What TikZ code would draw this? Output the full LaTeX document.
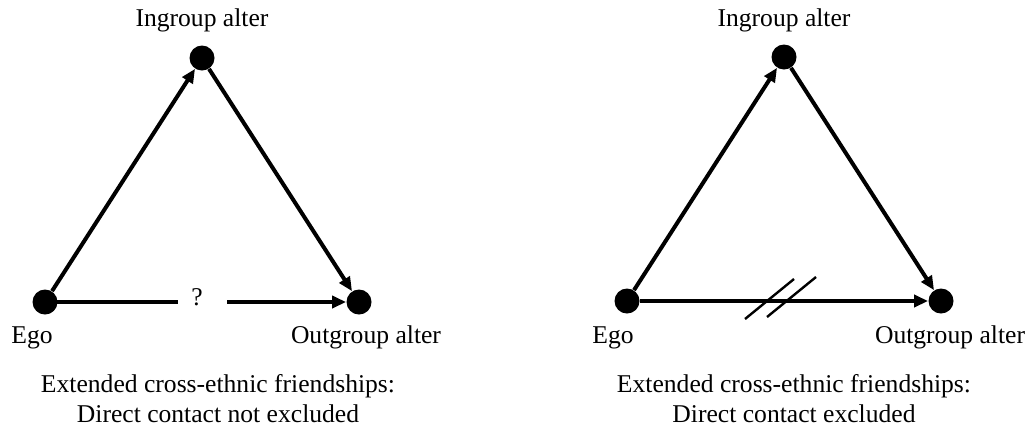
\documentclass[tikz,border=0pt]{standalone}
\usepackage{fontspec}
\setmainfont{Liberation Serif}
\usetikzlibrary{arrows.meta}
\begin{document}
\begin{tikzpicture}[x=0.5pt,y=-0.5pt,
  dot/.style={circle,fill=black,inner sep=0pt,minimum size=12.5pt},
  lbl/.style={anchor=base,inner sep=0pt,font=\fontsize{12.8}{15}\selectfont},
  edge/.style={line width=2pt,-{Triangle[length=7pt,width=6pt]}},
  slash/.style={line width=1.2pt}]
\useasboundingbox (0,0) rectangle (1031,430);
% left diagram
\node[dot] (e1) at (45,302) {};
\node[dot] (i1) at (202,58) {};
\node[dot] (o1) at (359,302) {};
\node[lbl] (ti1) at (202,26) {Ingroup alter};
\node[lbl] (te1) at (32,343) {Ego};
\node[lbl] (to1) at (366,343) {Outgroup alter};
\node[lbl] (c1a) at (218,392) {Extended cross-ethnic friendships:};
\node[lbl] (c1b) at (218,422) {Direct contact not excluded};
\node[inner sep=0pt,font=\fontsize{12.8}{15}\selectfont] (q) at (197,297) {?};
\coordinate (g1) at (178,302);
\coordinate (g2) at (227,302);
\draw[edge] (e1) -- (i1);
\draw[edge] (i1) -- (o1);
\draw[line width=2pt] (e1.center) -- (g1);
\draw[edge] (g2) -- (o1);
% right diagram
\node[dot] (e2) at (627,301) {};
\node[dot] (i2) at (784,57) {};
\node[dot] (o2) at (941,301) {};
\node[lbl] (ti2) at (784,26) {Ingroup alter};
\node[lbl] (te2) at (613,343) {Ego};
\node[lbl] (to2) at (950,343) {Outgroup alter};
\node[lbl] (c2a) at (794,392) {Extended cross-ethnic friendships:};
\node[lbl] (c2b) at (794,422) {Direct contact excluded};
\draw[edge] (e2) -- (i2);
\draw[edge] (i2) -- (o2);
\draw[edge] (e2) -- (o2);
\coordinate (s1a) at (745,319);
\coordinate (s1b) at (794,279);
\coordinate (s2a) at (767,317);
\coordinate (s2b) at (816,277);
\draw[slash] (s1a) -- (s1b);
\draw[slash] (s2a) -- (s2b);
\end{tikzpicture}
\end{document}
